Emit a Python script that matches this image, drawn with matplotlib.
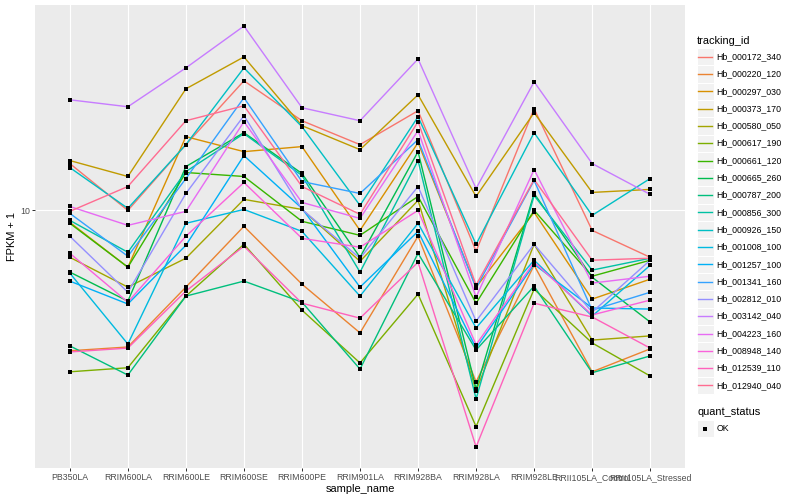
import numpy as np
import matplotlib
matplotlib.use("Agg")
import matplotlib.pyplot as plt
from matplotlib.patches import Rectangle
from matplotlib.lines import Line2D

samples = ["PB350LA", "RRIM600LA", "RRIM600LE", "RRIM600SE", "RRIM600PE",
           "RRIM901LA", "RRIM928BA", "RRIM928LA", "RRIM928LE",
           "RRII105LA_Control", "RRII105LA_Stressed"]

tracking_ids = ["Hb_000172_340", "Hb_000220_120", "Hb_000297_030", "Hb_000373_170",
                "Hb_000580_050", "Hb_000617_190", "Hb_000661_120", "Hb_000665_260",
                "Hb_000787_200", "Hb_000856_300", "Hb_000926_150", "Hb_001008_100",
                "Hb_001257_100", "Hb_001341_160", "Hb_002812_010", "Hb_003142_040",
                "Hb_004223_160", "Hb_008948_140", "Hb_012539_110", "Hb_012940_040"]

colors = ["#F8766D", "#EA8331", "#D89000", "#C09B00", "#A3A500", "#7CAE00",
          "#39B600", "#00BB4E", "#00BF7D", "#00C1A3", "#00BFC4", "#00BAE0",
          "#00B0F6", "#35A2FF", "#9590FF", "#C77CFF", "#E76BF3", "#FA62DB",
          "#FF62BC", "#FF6C91"]

# FPKM + 1 values, one list per tracking_id (order of samples)
hb_000172_340 = [14.72, 10.00, 17.21, 29.13, 20.96, 17.21, 22.76, 7.14, 23.14, 8.48, 6.79]
hb_000220_120 = [3.14, 3.24, 5.31, 8.77, 5.44, 3.64, 8.08, 2.43, 6.36, 2.64, 3.19]
hb_000297_030 = [9.06, 6.26, 18.38, 16.24, 16.93, 8.48, 17.49, 5.31, 9.84, 4.81, 5.67]
hb_000373_170 = [15.09, 13.23, 27.27, 35.48, 20.12, 16.51, 25.96, 11.22, 22.39, 11.60, 11.89]
hb_000580_050 = [6.79, 5.31, 6.74, 10.95, 10.08, 6.57, 10.86, 2.26, 7.56, 3.43, 3.55]
hb_000617_190 = [2.64, 2.73, 4.93, 7.56, 4.39, 2.84, 5.01, 1.68, 5.22, 3.35, 2.55]
hb_000661_120 = [8.99, 6.26, 13.67, 13.23, 9.14, 8.14, 11.22, 4.65, 10.00, 5.81, 6.63]
hb_000665_260 = [6.01, 4.73, 14.36, 18.99, 13.56, 6.79, 16.24, 2.29, 11.50, 5.76, 3.98]
hb_000787_200 = [3.27, 2.57, 4.93, 5.58, 4.69, 2.70, 7.02, 3.16, 5.35, 2.62, 3.01]
hb_000856_300 = [9.21, 7.08, 13.78, 18.84, 13.34, 6.01, 15.09, 2.11, 11.31, 6.11, 6.74]
hb_000926_150 = [14.24, 10.17, 17.21, 32.41, 19.95, 10.42, 21.66, 7.56, 18.99, 9.60, 13.01]
hb_001008_100 = [5.96, 3.32, 8.99, 10.08, 8.41, 4.93, 8.99, 3.79, 6.63, 4.18, 6.36]
hb_001257_100 = [5.58, 4.62, 7.50, 15.72, 10.17, 5.31, 8.41, 3.21, 6.41, 4.47, 4.43]
hb_001341_160 = [9.76, 6.85, 13.01, 25.33, 12.69, 11.50, 17.93, 5.27, 12.80, 4.39, 5.09]
hb_002812_010 = [8.08, 5.09, 11.50, 21.84, 10.08, 6.74, 12.18, 4.01, 7.56, 4.32, 6.63]
hb_003142_040 = [24.91, 23.52, 32.41, 45.78, 23.33, 20.96, 34.90, 11.98, 28.89, 14.72, 11.41]
hb_004223_160 = [10.33, 8.84, 9.92, 20.79, 10.68, 9.36, 19.31, 4.89, 14.01, 5.49, 5.81]
hb_008948_140 = [7.02, 4.69, 8.08, 12.59, 7.94, 7.38, 10.00, 3.30, 6.52, 4.22, 4.77]
hb_012539_110 = [3.11, 3.21, 5.14, 7.44, 4.65, 4.11, 6.52, 1.42, 4.65, 4.15, 3.21]
hb_012940_040 = [9.92, 12.18, 20.96, 23.71, 12.18, 9.68, 20.79, 5.40, 12.90, 6.63, 6.74]

series = [hb_000172_340, hb_000220_120, hb_000297_030, hb_000373_170, hb_000580_050,
          hb_000617_190, hb_000661_120, hb_000665_260, hb_000787_200, hb_000856_300,
          hb_000926_150, hb_001008_100, hb_001257_100, hb_001341_160, hb_002812_010,
          hb_003142_040, hb_004223_160, hb_008948_140, hb_012539_110, hb_012940_040]

y_ticks = [10]
quant_status = ["OK"]

FONT = "Liberation Sans"
W, H = 800, 500
fig = plt.figure(figsize=(8, 5), dpi=100)
fig.patch.set_facecolor("white")

def px2pt(p):
    return p * 72.0 / 100.0

# panel in pixel coordinates
L, R, T, B = 35, 685, 5, 468
ax = fig.add_axes([L / W, 1 - B / H, (R - L) / W, (B - T) / H])
ax.set_facecolor("#EBEBEB")
for s in ax.spines.values():
    s.set_visible(False)

x = np.arange(1, len(samples) + 1)
for vals, col in zip(series, colors):
    ax.plot(x, vals, color=col, lw=px2pt(1.4), zorder=3, solid_capstyle="butt")
for vals in series:
    ax.plot(x, vals, ls="none", marker="s", ms=px2pt(3.2), color="black", mew=0, zorder=4)

ax.set_yscale("log")
allv = np.log10(np.concatenate([np.asarray(v) for v in series]))
lo, hi = allv.min(), allv.max()
pad = 0.05 * (hi - lo)
ax.set_ylim(10 ** (lo - pad), 10 ** (hi + pad))
ax.set_xlim(0.4, len(samples) + 0.6)

ax.set_yticks(y_ticks)
ax.set_yticklabels([str(t) for t in y_ticks])
ax.yaxis.set_minor_locator(matplotlib.ticker.NullLocator())
ax.set_xticks(x)
ax.set_xticklabels(samples)
ax.grid(True, which="major", color="white", lw=px2pt(1.1), zorder=0)
ax.set_axisbelow(True)
ax.tick_params(axis="both", which="major", length=px2pt(2.75), width=px2pt(1.0),
               color="#333333", labelcolor="#4D4D4D", labelsize=px2pt(8.8), pad=px2pt(2.2))
for lab in ax.get_xticklabels() + ax.get_yticklabels():
    lab.set_family(FONT)

ax.set_xlabel("sample_name", fontsize=px2pt(11), family=FONT, labelpad=px2pt(2.5))
ax.set_ylabel("FPKM + 1", fontsize=px2pt(11), family=FONT, labelpad=px2pt(3))

# legend (drawn in a pixel-coordinate overlay)
lg = fig.add_axes([0, 0, 1, 1], zorder=5)
lg.set_xlim(0, W)
lg.set_ylim(H, 0)
lg.axis("off")
lg.patch.set_alpha(0)

kx0, kw, kh = 696.5, 17.3, 17.3
lg.text(697, 40.5, "tracking_id", fontsize=px2pt(11), family=FONT, va="center", ha="left")
y0 = 56.7
for i, (tid, col) in enumerate(zip(tracking_ids, colors)):
    cy = y0 + i * kh
    lg.add_patch(Rectangle((kx0, cy - kh / 2), kw, kh, facecolor="#F2F2F2",
                           edgecolor="white", lw=px2pt(1.0)))
    lg.add_line(Line2D([kx0 + 1.7, kx0 + kw - 1.7], [cy, cy], color=col, lw=px2pt(1.4)))
    lg.text(716.5, cy, tid, fontsize=px2pt(8.8), family=FONT, va="center", ha="left")

lg.text(697, 412, "quant_status", fontsize=px2pt(11), family=FONT, va="center", ha="left")
for j, qs in enumerate(quant_status):
    cy = 428.5 + j * kh
    lg.add_patch(Rectangle((kx0, cy - kh / 2), kw, kh, facecolor="#F2F2F2",
                           edgecolor="white", lw=px2pt(1.0)))
    lg.plot([kx0 + kw / 2], [cy], ls="none", marker="s", ms=px2pt(3.2), color="black", mew=0)
    lg.text(716.5, cy, qs, fontsize=px2pt(8.8), family=FONT, va="center", ha="left")

fig.savefig("out.png", dpi=100)
